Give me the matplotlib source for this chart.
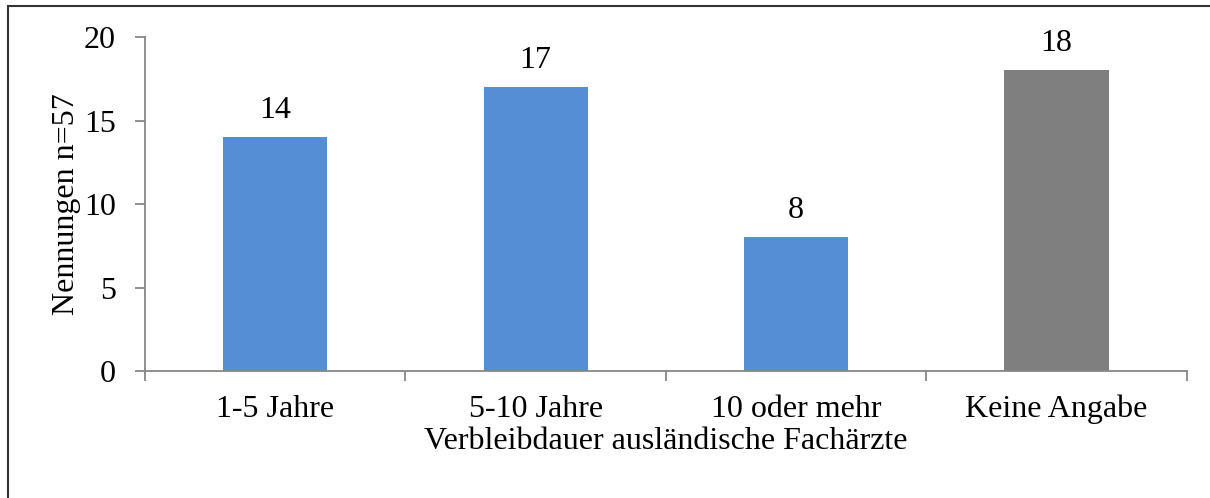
import numpy as np
from matplotlib import pyplot as plt
from matplotlib.patches import Rectangle

categories = ['1-5 Jahre', '5-10 Jahre', '10 oder mehr', 'Keine Angabe']
values = [14, 17, 8, 18]
bar_colors = ['#558ED5', '#558ED5', '#558ED5', '#7F7F7F']

plt.rcParams['font.family'] = ['Liberation Serif', 'DejaVu Serif']
fs = 23

fig = plt.figure(figsize=(12.1, 4.98), dpi=100)
ax = fig.add_axes([0.1198, 0.255, 0.861, 0.6707])

x = np.arange(len(categories))
ax.bar(x, values, width=0.4, color=bar_colors, zorder=2)
for xi, v in zip(x, values):
    ax.annotate(str(v), (xi, v), xytext=(0, 9), textcoords='offset points',
                ha='center', va='bottom', fontsize=fs)

ax.set_xlim(-0.5, len(categories) - 0.5)
ax.set_ylim(0, 20)
ax.set_yticks([0, 5, 10, 15, 20])
ax.set_xticks(x)
ax.set_xticklabels(categories)
ax.set_xticks(np.arange(len(categories) + 1) - 0.5, minor=True)
ax.tick_params(axis='x', which='major', length=0, pad=17, labelsize=fs)
ax.tick_params(axis='x', which='minor', length=7, width=1.3, color='#868686', direction='out')
ax.tick_params(axis='y', length=7, width=1.3, color='#868686', direction='out', pad=14, labelsize=fs)

for side in ['top', 'right']:
    ax.spines[side].set_visible(False)
for side in ['left', 'bottom']:
    ax.spines[side].set_color('#868686')
    ax.spines[side].set_linewidth(1.3)

ax.set_xlabel('Verbleibdauer ausländische Fachärzte', fontsize=fs, labelpad=2)
ax.set_ylabel('Nennungen n=57', fontsize=fs, labelpad=2)

# chart border (only top/left visible in the crop)
fig.patches.append(Rectangle((8 / 1210, -0.1), 1.5, 1 - 6 / 498 + 0.1, transform=fig.transFigure,
                             fill=False, edgecolor='#333333', linewidth=1.5))

fig.savefig('out.png', dpi=100)
